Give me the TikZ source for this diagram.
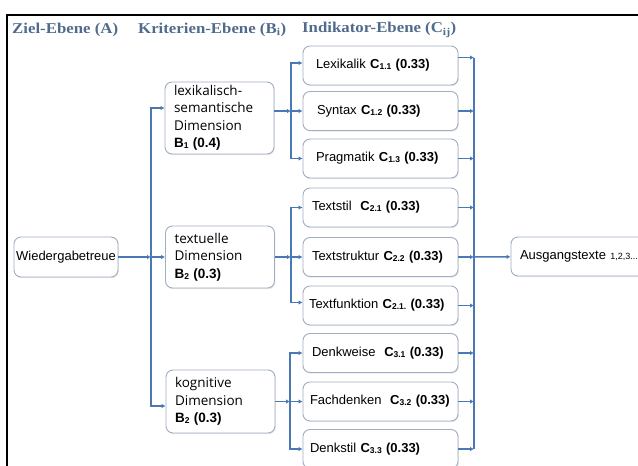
\documentclass[tikz,border=0pt]{standalone}
\usepackage{fontspec}
\setmainfont{Liberation Sans}
\newfontfamily\hdrfont[FakeStretch=1.12]{Liberation Serif}
\newfontfamily\dimfont{Open Sans}
\usetikzlibrary{arrows.meta,shadows,calc}
\definecolor{linec}{RGB}{74,120,180}
\definecolor{boxc}{RGB}{160,174,196}
\definecolor{hdrc}{RGB}{80,106,140}
\newcommand\smallsub[1]{\raisebox{-0.8pt}{\fontsize{8.5}{8.5}\selectfont #1}}
\newcommand\Cw[2]{\textbf{C\smallsub{#1} (#2)}}
\begin{document}
\begin{tikzpicture}[x=1pt,y=-1pt,
  box/.style={draw=boxc, line width=0.9pt, rounded corners=7pt, fill=white,
    drop shadow={shadow xshift=0.8pt, shadow yshift=-1.2pt, opacity=0.18}},
  cbox/.style={box, minimum width=155pt, minimum height=39pt, text width=145pt,
    inner xsep=5pt, align=left, font=\fontsize{13}{15}\selectfont},
  bbox/.style={box, text width=91pt, inner xsep=9pt, inner ysep=3pt, align=left,
    font=\dimfont\fontsize{13.5}{17.5}\selectfont},
  conn/.style={draw=linec, line width=1.5pt, -{Latex[length=4pt,width=4.5pt]}},
  busline/.style={draw=linec, line width=1.5pt},
  hdr/.style={font=\hdrfont\bfseries\fontsize{15}{15}\selectfont, text=hdrc, anchor=west, inner sep=0pt}]
\useasboundingbox (0,0) rectangle (638,466);
% frame
\draw[line width=1.8pt] (7,470) -- (7,15) -- (645,15);
% headers
\node[hdr] (hA) at (12,30) {Ziel-Ebene (A)};
\node[hdr] (hB) at (138,30) {Kriterien-Ebene (B\textsubscript{i})};
\node[hdr] (hC) at (302,30) {Indikator-Ebene (C\textsubscript{ij})};
% goal
\node[box, minimum width=104pt, minimum height=40pt, inner sep=1pt, font=\fontsize{13}{15}\selectfont] (A) at (66,257) {Wiedergabetreue};
% criteria
\node[bbox, minimum height=72pt] (B1) at (219.5,118) {lexikalisch-\\semantische\\Dimension\\{\normalfont\bfseries B\smallsub{1} (0.4)}};
\node[bbox, minimum height=62pt] (B2) at (220,257) {textuelle\\Dimension\\{\normalfont\bfseries B\smallsub{2} (0.3)}};
\node[bbox, minimum height=63pt] (B3) at (220.5,401.5) {kognitive\\Dimension\\{\normalfont\bfseries B\smallsub{2} (0.3)}};
% indicators
\node[cbox] (c11) at (380.5,65.5) {\hspace{8pt}Lexikalik \Cw{1.1}{0.33}};
\node[cbox] (c12) at (380.5,111) {\hspace{9pt}Syntax \Cw{1.2}{0.33}};
\node[cbox] (c13) at (380.5,158.5) {\hspace{8pt}Pragmatik \Cw{1.3}{0.33}};
\node[cbox] (c21) at (380.5,207.5) {\hspace{4pt}Textstil\ \ \Cw{2.1}{0.33}};
\node[cbox] (c22) at (380.5,257) {\hspace{4pt}Textstruktur \Cw{2.2}{0.33}};
\node[cbox] (c23) at (380.5,305.5) {\hspace{1pt}Textfunktion \Cw{2.1.}{0.33}};
\node[cbox] (c31) at (380.5,353) {\hspace{4pt}Denkweise\ \ \Cw{3.1}{0.33}};
\node[cbox] (c32) at (380.5,401.5) {\hspace{2pt}Fachdenken\ \ \Cw{3.2}{0.33}};
\node[cbox] (c33) at (380.5,449) {\hspace{2pt}Denkstil \Cw{3.3}{0.33}};
% output
\node[box, minimum width=150pt, minimum height=39pt, text width=132pt, inner xsep=9pt, align=left, font=\fontsize{13}{15}\selectfont] (D) at (586,256.5) {Ausgangstexte {\fontsize{9}{9}\selectfont 1,2,3...}};
% left connectors
\coordinate (jL) at (151,257);
\draw[conn] (A) -- (jL);
\draw[conn] (jL) -- (jL -| B2.west);
\draw[conn] (jL) |- ([yshift=10pt]B1.west);
\draw[conn] (jL) |- ([yshift=-4.5pt]B3.west);
% B1 -> C1x
\coordinate (j1) at (291,111);
\draw[conn] ([yshift=7pt]B1.east) -- (j1);
\draw[conn] (j1) -- (c12.west);
\draw[conn] (j1) |- ([yshift=2.5pt]c11.west);
\draw[conn] (j1) |- (c13.west);
% B2 -> C2x
\coordinate (j2) at (291,257);
\draw[conn] (B2.east) -- (j2);
\draw[conn] (j2) -- (c22.west);
\draw[conn] (j2) |- (c21.west);
\draw[conn] (j2) |- ([yshift=3pt]c23.west);
% B3 -> C3x
\coordinate (j3) at (290,401.5);
\draw[conn] (B3.east) -- (j3);
\draw[conn] (j3) -- (c32.west);
\draw[conn] (j3) |- (c31.west);
\draw[conn] (j3) |- (c33.west);
% right bus
\coordinate (jR) at (474,257);
\coordinate (r1) at ($(c11.east)+(0,-8)$);
\draw[busline] (r1 -| jR) -- (c33.east -| jR);
\draw[conn] (r1) -- (r1 -| jR);
\foreach \n in {c12,c13,c21,c22,c23,c31,c32,c33}
  \draw[conn] (\n.east) -- (\n.east -| jR);
\draw[conn] (jR) -- (D);
\end{tikzpicture}
\end{document}
